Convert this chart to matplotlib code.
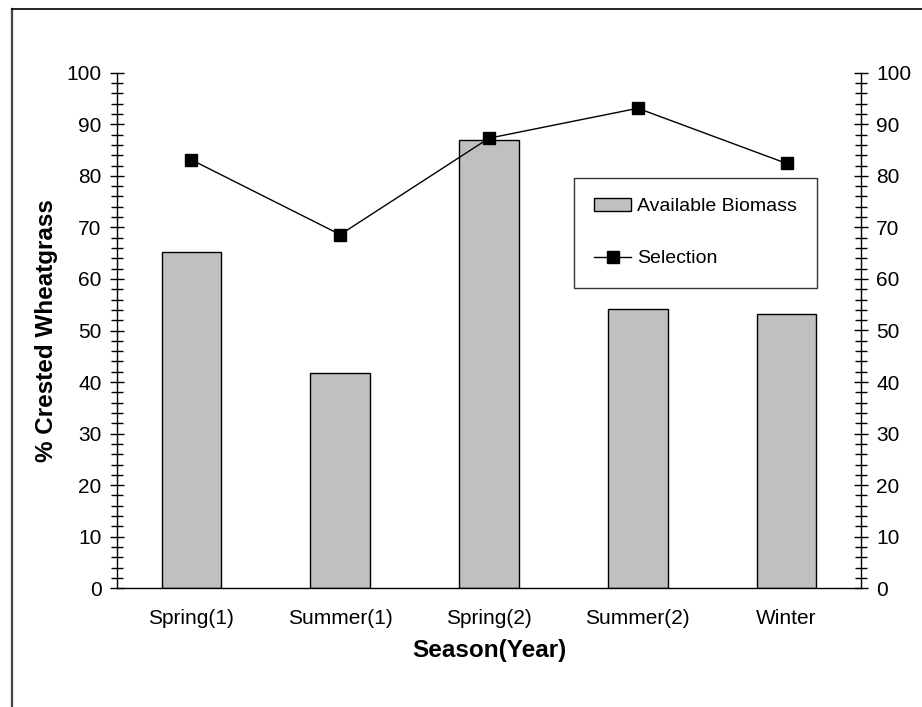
import numpy as np
import matplotlib as mpl
mpl.use('Agg')
import matplotlib.pyplot as plt
from matplotlib.lines import Line2D
from matplotlib.ticker import MultipleLocator

plt.rcParams['font.family'] = ['Liberation Sans', 'DejaVu Sans']

seasons = ['Spring(1)', 'Summer(1)', 'Spring(2)', 'Summer(2)', 'Winter']
biomass = [65.2, 41.7, 87.0, 54.1, 53.2]
selection = [83.1, 68.6, 87.3, 93.1, 82.4]

fig = plt.figure(figsize=(9.22, 7.07), dpi=100)
ax = fig.add_axes([117/922, 1-588.3/707, 744/922, (588.3-72.7)/707])

x = np.arange(len(seasons))
bars = ax.bar(x, biomass, width=0.4, color='#c0c0c0', edgecolor='black', linewidth=1.0,
              label='Available Biomass', zorder=2)
line, = ax.plot(x, selection, color='black', linewidth=1.0, marker='s', markersize=8,
                label='Selection', zorder=3)

ax.set_xlim(-0.5, len(seasons) - 0.5)
ax.set_ylim(0, 100)
ax.set_xticks(x)
ax.set_xticklabels(seasons, fontsize=15)
ax.tick_params(axis='x', length=0, pad=15)

ax2 = ax.twinx()
ax2.set_ylim(0, 100)
for a in (ax, ax2):
    a.yaxis.set_major_locator(MultipleLocator(10))
    a.yaxis.set_minor_locator(MultipleLocator(2))
    a.tick_params(axis='y', which='major', direction='inout', length=10, width=1.0,
                  labelsize=15, pad=6)
    a.tick_params(axis='y', which='minor', direction='inout', length=8, width=1.0)
    a.spines['top'].set_visible(False)
ax.spines['right'].set_visible(False)
ax2.spines['left'].set_visible(False)
ax2.spines['bottom'].set_visible(False)
for s in ('left', 'bottom'):
    ax.spines[s].set_linewidth(1.0)
ax2.spines['right'].set_linewidth(1.0)

ax.set_ylabel('% Crested Wheatgrass', fontsize=17.5, fontweight='bold', labelpad=6)
ax.set_xlabel('Season(Year)', fontsize=17.5, fontweight='bold', labelpad=8)

leg = ax2.legend([bars, line], ['Available Biomass', 'Selection'],
                 loc='upper left', bbox_to_anchor=(574/922, 1-178/707),
                 bbox_transform=fig.transFigure, fontsize=14, frameon=True,
                 fancybox=False, edgecolor='black', labelspacing=1.8,
                 borderpad=1.05, handlelength=1.9, handleheight=0.6,
                 handletextpad=0.3, borderaxespad=0)
leg.get_frame().set_linewidth(1.0)

# outer frame (top and left edges only are visible)
fig.add_artist(Line2D([12/922, 12/922], [0, 1-9/707], transform=fig.transFigure,
                      color='#444444', linewidth=1.6))
fig.add_artist(Line2D([12/922, 1], [1-9/707, 1-9/707], transform=fig.transFigure,
                      color='black', linewidth=1.2))

plt.savefig('out.png', dpi=100)
